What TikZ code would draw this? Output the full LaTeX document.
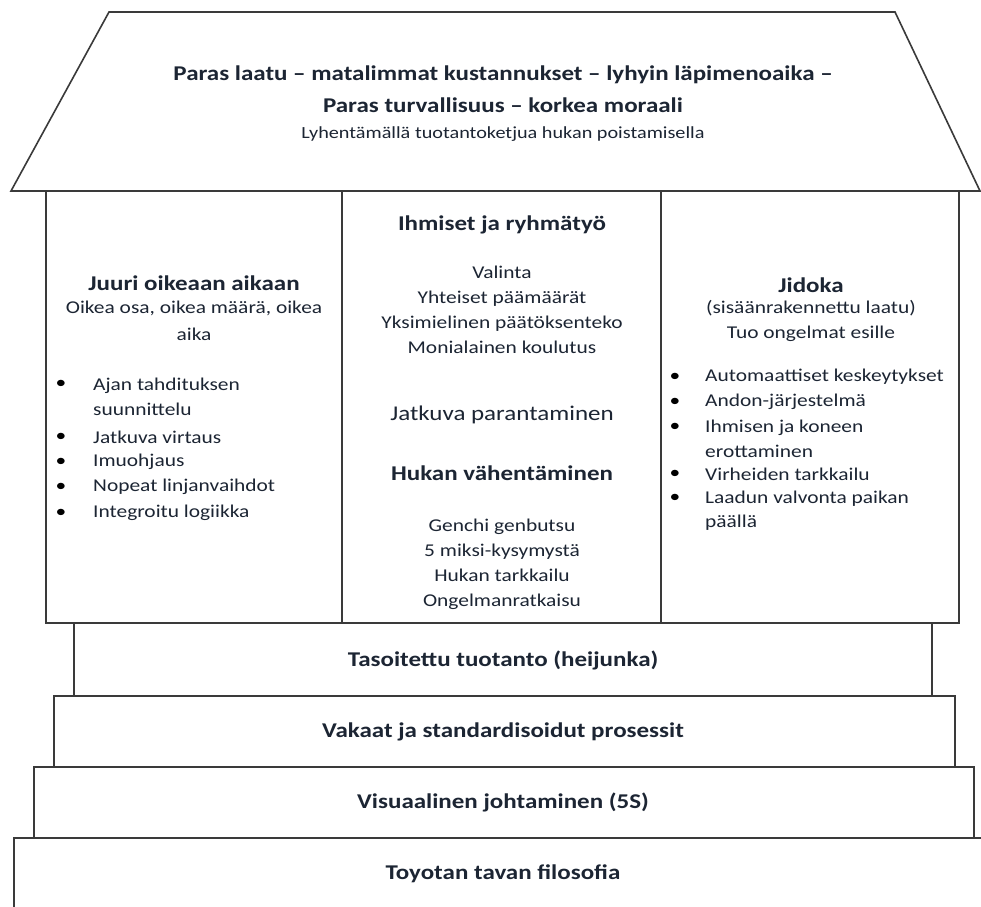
\documentclass[tikz,border=0pt]{standalone}
\usepackage{fontspec}
\setmainfont{Carlito}[FakeStretch=1.19]
\usetikzlibrary{positioning}
\definecolor{hInk}{HTML}{1C2533}
\definecolor{hLine}{HTML}{3A3A3A}

\begin{document}
\begin{tikzpicture}[x=1pt, y=-1pt,
    part/.style={draw=hLine, line width=1.3pt, fill=white},
    head/.style={font=\fontsize{21}{25}\selectfont\bfseries, text=hInk, align=center},
    body/.style={font=\fontsize{18}{25}\selectfont, text=hInk, align=center},
    item/.style={font=\fontsize{18}{24.5}\selectfont, text=hInk, align=left, anchor=west, inner sep=0pt},
    dot/.style={font=\fontsize{18}{24}\selectfont, text=black, inner sep=0pt}]

  \useasboundingbox (0,0) rectangle (981,906);
  \clip (0,0) rectangle (981,906);
  \fill[white] (0,0) rectangle (981,906);

  % roof
  \begin{scope}
    \draw[part, line width=1.6pt] (109,12) -- (895,12) -- (980,191) -- (11,191) -- cycle;
    \node[head, font=\fontsize{21}{32}\selectfont\bfseries] (roofTitle) at (503,89)
      {Paras laatu – matalimmat kustannukset – lyhyin läpimenoaika –\\Paras turvallisuus – korkea moraali};
    \node[body, font=\fontsize{17}{20}\selectfont] (roofSub) at (503,134) {Lyhentämällä tuotantoketjua hukan poistamisella};
  \end{scope}

  % pillars
  \draw[part] (46,191) rectangle (342,623);
  \draw[part] (342,191) rectangle (661,623);
  \draw[part] (661,191) rectangle (959,623);
  \draw[hLine, line width=1.6pt] (11,191) -- (980,191);

  % left pillar: just in time
  \node[head] (jitHead) at (194,283) {Juuri oikeaan aikaan};
  \node[body, font=\fontsize{18}{27}\selectfont] (jitSub) at (194,321) {Oikea osa, oikea määrä, oikea\\aika};
  \foreach \yb/\yt/\txt [count=\i] in {384/397/{Ajan tahdituksen\\suunnittelu}, 437/437/Jatkuva virtaus,
      462/462/Imuohjaus, 487/487/Nopeat linjanvaihdot, 513/513/Integroitu logiikka} {
    \node[dot] (jitDot\i) at (61,\yb) {\textbullet};
    \node[item] (jitItem\i) at (93,\yt) {\txt};
  }

  % centre pillar
  \node[head] (peopleHead) at (502,225) {Ihmiset ja ryhmätyö};
  \node[body] (peopleList) at (502,309.5)
    {Valinta\\Yhteiset päämäärät\\Yksimielinen päätöksenteko\\Monialainen koulutus};
  \node[body, font=\fontsize{21}{25}\selectfont] (kaizen) at (502,415) {Jatkuva parantaminen};
  \node[head] (wasteHead) at (502,473) {Hukan vähentäminen};
  \node[body] (wasteList) at (502,564.5)
    {Genchi genbutsu\\5 miksi-kysymystä\\Hukan tarkkailu\\Ongelmanratkaisu};

  % right pillar: jidoka
  \node[head] (jidokaHead) at (811,285) {Jidoka};
  \node[body] (jidokaSub) at (811,320.5) {(sisäänrakennettu laatu)\\Tuo ongelmat esille};
  \foreach \yb/\yt/\txt [count=\i] in {377/377/Automaattiset keskeytykset, 402/402/Andon-järjestelmä,
      427/439/{Ihmisen ja koneen\\erottaminen}, 474/474/Virheiden tarkkailu,
      498/510.5/{Laadun valvonta paikan\\päällä}} {
    \node[dot] (jidokaDot\i) at (675,\yb) {\textbullet};
    \node[item] (jidokaItem\i) at (705,\yt) {\txt};
  }

  % foundation steps
  \draw[part] (74,623) rectangle (932,696);
  \draw[part] (54,696) rectangle (955,767);
  \draw[part] (34,767) rectangle (974,838);
  \draw[part] (14,838) rectangle (995,920);

  \node[head] (heijunka) at (503,660) {Tasoitettu tuotanto (heijunka)};
  \node[head] (stable) at (503,732) {Vakaat ja standardisoidut prosessit};
  \node[head] (visual) at (503,802) {Visuaalinen johtaminen (5S)};
  \node[head] (philosophy) at (503,874) {Toyotan tavan filosofia};

\end{tikzpicture}
\end{document}
